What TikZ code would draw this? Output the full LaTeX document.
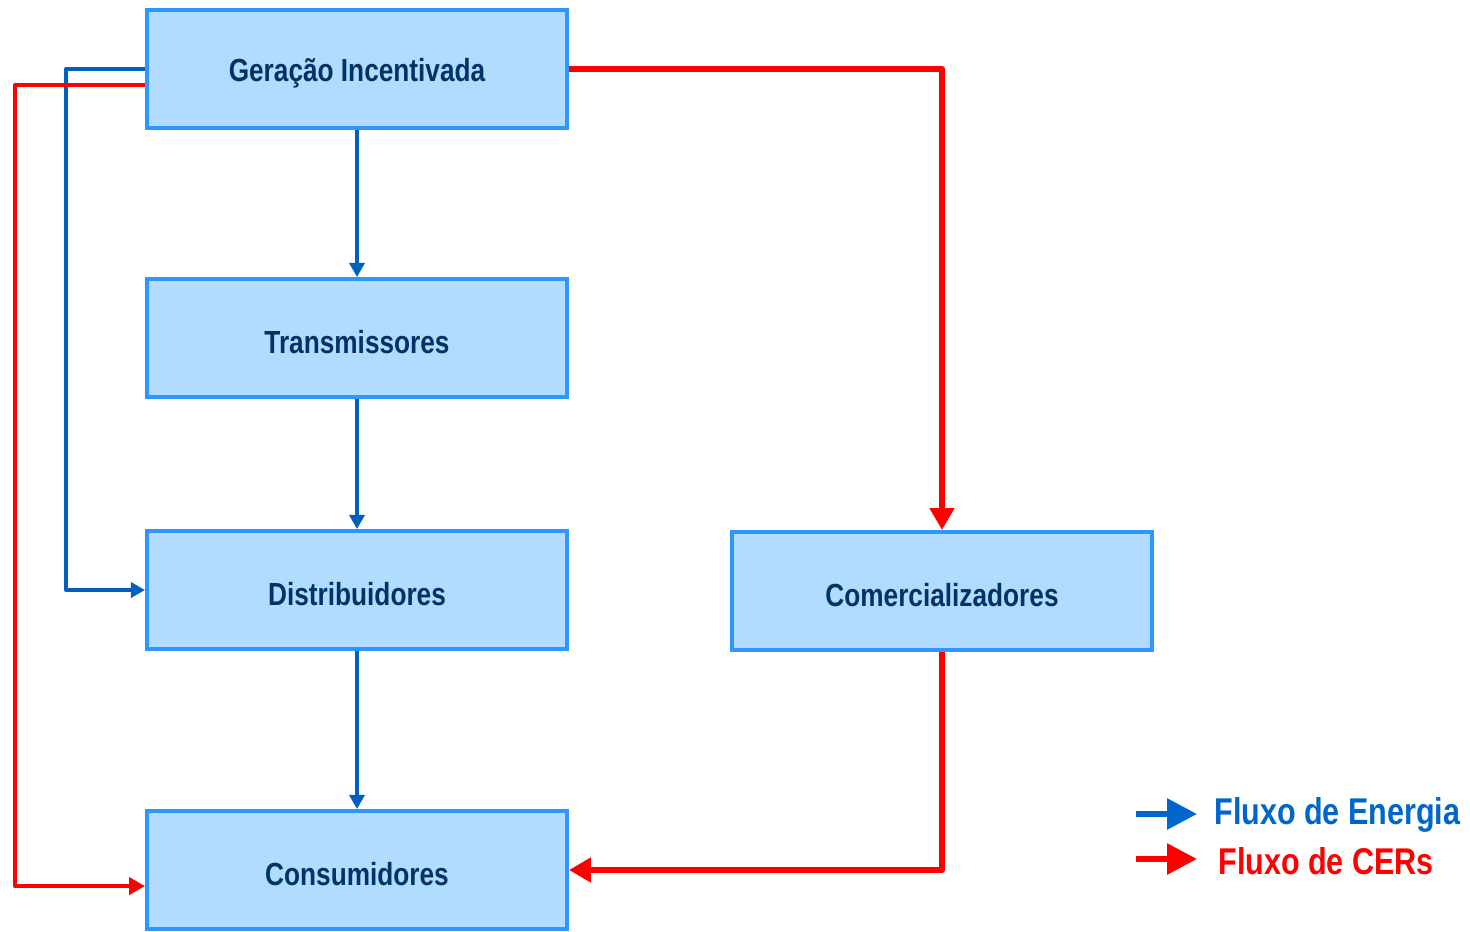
\documentclass[tikz,border=0pt]{standalone}
\usepackage{fontspec}
\setmainfont{Liberation Sans}[FakeStretch=0.82]
\usetikzlibrary{arrows.meta,calc}
\definecolor{boxfill}{RGB}{178,220,255}
\definecolor{boxline}{RGB}{47,150,255}
\definecolor{txt}{RGB}{0,51,102}
\definecolor{eblue}{RGB}{0,96,192}
\definecolor{cred}{RGB}{255,0,0}
\definecolor{legblue}{RGB}{0,102,204}
\newcommand{\boxlbl}[1]{\raisebox{-2.5pt}[\height][\depth]{#1}}
\begin{document}
\begin{tikzpicture}[x=0.02cm,y=-0.02cm,
  box/.style={draw=boxline,fill=boxfill,line width=2.27pt,minimum width=8.4cm,minimum height=2.36cm,inner sep=0pt,text=txt,font=\bfseries\fontsize{18.2}{21}\selectfont},
  eflow/.style={draw=eblue,line width=2.27pt,line join=round,-{Triangle[length=8pt,width=8.5pt]}},
  cflow/.style={draw=cred,line width=3.4pt,line join=round,-{Triangle[length=12.5pt,width=13.5pt]}},
  cflowthin/.style={draw=cred,line width=2.6pt,line join=round,-{Triangle[length=9pt,width=9.5pt]}},
  legb/.style={draw=legblue,line width=3.4pt,-{Triangle[length=17pt,width=17pt]}},
  legr/.style={draw=cred,line width=3.4pt,-{Triangle[length=17pt,width=17pt]}},
  legtext/.style={anchor=west,inner sep=0pt,font=\bfseries\fontsize{21.2}{25}\selectfont}]
\useasboundingbox (0,0) rectangle (1470,931);
\fill[white] (0,0) rectangle (1470,931);
\node[box] (ger) at (357,69) {\boxlbl{Geração Incentivada}};
\node[box] (tra) at (357,338) {\boxlbl{Transmissores}};
\node[box] (dis) at (357,590) {\boxlbl{Distribuidores}};
\node[box] (con) at (357,870) {\boxlbl{Consumidores}};
\node[box] (com) at (942,591) {\boxlbl{Comercializadores}};
\draw[eflow] (ger.south) -- (tra.north);
\draw[eflow] (tra.south) -- (dis.north);
\draw[eflow] (dis.south) -- (con.north);
\draw[eflow] (ger.west) -- ++(-79,0) |- (dis.west);
\draw[cflowthin] ($(ger.west)+(0,16)$) -- ++(-130,0) |- ($(con.west)+(0,16)$);
\draw[cflow] (ger.east) -| (com.north);
\draw[cflow] (com.south) |- (con.east);
\coordinate (lb1) at (1136,814);
\coordinate (lb2) at (1197,814);
\coordinate (lr1) at (1136,859);
\coordinate (lr2) at (1197,859);
\draw[legb] (lb1) -- (lb2);
\draw[legr] (lr1) -- (lr2);
\node[legtext,text=legblue] (lt1) at (1214,815) {Fluxo de Energia};
\node[legtext,text=cred] (lt2) at (1218,861) {Fluxo de CERs};
\end{tikzpicture}
\end{document}
